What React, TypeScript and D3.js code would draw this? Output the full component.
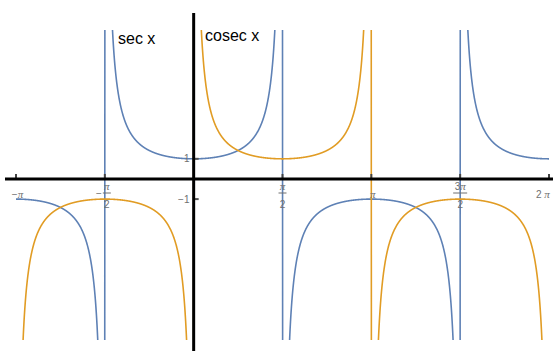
import React from "react";
import * as d3 from "d3";

// Plot window and ranges
const WIDTH = 553;
const HEIGHT = 351;
const X_DOMAIN = [-Math.PI, 2 * Math.PI];
const Y_DOMAIN = [-8, 7.4];

// The two plotted functions
const seriesNames = ["sec x", "cosec x"];
const seriesColors = ["#5e81b5", "#e19c24"];
const seriesFns = [(x: number) => 1 / Math.cos(x), (x: number) => 1 / Math.sin(x)];
const seriesLabelPos = [
  [118, 44],
  [205, 41],
];

// Axis ticks
const xTickValues = [-Math.PI, -Math.PI / 2, Math.PI / 2, Math.PI, (3 * Math.PI) / 2, 2 * Math.PI];
const xTickLabels = ["−π", "−π/2", "π/2", "π", "3π/2", "2 π"];
const yTickValues = [1, -1];
const yTickLabels = ["1", "−1"];

const SAMPLES = 4000;

const x = d3.scaleLinear().domain(X_DOMAIN).range([16, 549]);
const y = d3.scaleLinear().domain(Y_DOMAIN).range([340, 30]);

function sample(fn: (v: number) => number): [number, number][] {
  const pts: [number, number][] = [];
  const lo = Y_DOMAIN[0] - 1;
  const hi = Y_DOMAIN[1] + 1;
  for (let i = 0; i <= SAMPLES; i++) {
    const t = X_DOMAIN[0] + ((X_DOMAIN[1] - X_DOMAIN[0]) * i) / SAMPLES;
    let v = fn(t);
    if (!isFinite(v)) v = v > 0 ? hi : lo;
    v = Math.max(lo, Math.min(hi, v));
    pts.push([t, v]);
  }
  return pts;
}

const lineGen = d3
  .line<[number, number]>()
  .x((d) => x(d[0]))
  .y((d) => y(d[1]));

const TICK_FONT = "'Liberation Sans', Arial, sans-serif";
const PI_FONT = "'Liberation Serif', 'Times New Roman', serif";
const TICK_COLOR = "#6f6f6f";

function Glyphs({ text }: { text: string }) {
  // π is set in italic serif, everything else in the sans tick font
  const parts = text.split(/(π)/).filter((s) => s.length > 0);
  return (
    <>
      {parts.map((p, i) =>
        p === "π" ? (
          <tspan key={i} fontFamily={PI_FONT} fontStyle="italic" fontSize={11}>
            π
          </tspan>
        ) : (
          <tspan key={i}>{p}</tspan>
        )
      )}
    </>
  );
}

function XTickLabel({ value, label }: { value: number; label: string }) {
  const cx = x(value);
  if (label.includes("/")) {
    let [num, den] = label.split("/");
    let sign = "";
    if (num.startsWith("−")) {
      sign = "−";
      num = num.slice(1);
    }
    const fx = sign ? cx + 2 : cx;
    const barHalf = num.length > 1 ? 7 : 4;
    return (
      <g fill={TICK_COLOR} fontFamily={TICK_FONT} fontSize={10}>
        {sign && (
          <text x={fx - 8} y={196.5} textAnchor="middle">
            {sign}
          </text>
        )}
        <text x={fx} y={190} textAnchor="middle">
          <Glyphs text={num} />
        </text>
        <line x1={fx - barHalf} x2={fx + barHalf} y1={193} y2={193} stroke={TICK_COLOR} strokeWidth={1} />
        <text x={fx} y={207.5} textAnchor="middle">
          {den}
        </text>
      </g>
    );
  }
  const anchor = value === X_DOMAIN[1] ? "start" : "middle";
  const tx = value === X_DOMAIN[1] ? cx - 13 : cx + 1.5;
  return (
    <text x={tx} y={198} textAnchor={anchor} fill={TICK_COLOR} fontFamily={TICK_FONT} fontSize={10}>
      <Glyphs text={label} />
    </text>
  );
}

export default function App() {
  const x0 = x(0);
  const y0 = y(0);
  return (
    <svg
      width={WIDTH}
      height={HEIGHT}
      style={{ position: "absolute", left: 0, top: 0, background: "#fff" }}
    >
      <defs>
        <clipPath id="plot-area">
          <rect x={x(X_DOMAIN[0]) - 1} y={y(Y_DOMAIN[1])} width={x(X_DOMAIN[1]) - x(X_DOMAIN[0]) + 2} height={y(Y_DOMAIN[0]) - y(Y_DOMAIN[1])} />
        </clipPath>
      </defs>

      <g clipPath="url(#plot-area)">
        {seriesFns.map((fn, i) => (
          <path
            key={seriesNames[i]}
            d={lineGen(sample(fn)) ?? ""}
            fill="none"
            stroke={seriesColors[i]}
            strokeWidth={1.6}
            strokeLinejoin="round"
          />
        ))}
      </g>

      {/* tick marks */}
      {xTickValues.map((v) => (
        <line key={v} x1={x(v)} x2={x(v)} y1={y0 - 5} y2={y0} stroke="#444" strokeWidth={2} />
      ))}
      {yTickValues.map((v) => (
        <line key={v} x1={x0} x2={x0 + 5} y1={y(v)} y2={y(v)} stroke="#555" strokeWidth={2} />
      ))}

      {/* axes */}
      <line x1={5} x2={WIDTH} y1={y0} y2={y0} stroke="#000" strokeWidth={3} />
      <line x1={x0} x2={x0} y1={13} y2={HEIGHT} stroke="#000" strokeWidth={3} />

      {/* tick labels */}
      {xTickValues.map((v, i) => (
        <XTickLabel key={v} value={v} label={xTickLabels[i]} />
      ))}
      {yTickValues.map((v, i) => (
        <text
          key={v}
          x={189.5}
          y={y(v) + 3.5}
          textAnchor="end"
          fill={TICK_COLOR}
          fontFamily={TICK_FONT}
          fontSize={10}
        >
          {yTickLabels[i]}
        </text>
      ))}

      {/* function labels */}
      {seriesNames.map((name, i) => (
        <text
          key={name}
          x={seriesLabelPos[i][0]}
          y={seriesLabelPos[i][1]}
          fontFamily="'Liberation Sans', Arial, sans-serif"
          fontSize={16}
          fill="#000"
        >
          {name}
        </text>
      ))}
    </svg>
  );
}
